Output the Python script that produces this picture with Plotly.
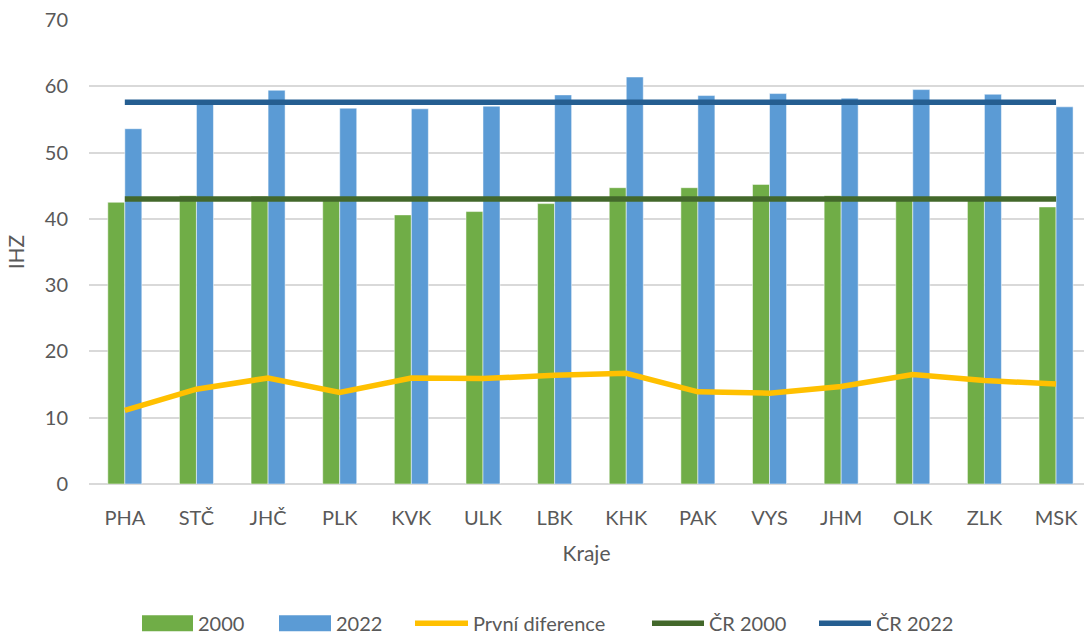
import plotly.graph_objects as go

kraje = ["PHA", "STČ", "JHČ", "PLK", "KVK", "ULK", "LBK", "KHK",
         "PAK", "VYS", "JHM", "OLK", "ZLK", "MSK"]
ihz_2000 = [42.5, 43.5, 43.4, 42.9, 40.6, 41.1, 42.3, 44.7, 44.7, 45.2, 43.5, 43.0, 43.2, 41.8]
ihz_2022 = [53.6, 57.8, 59.4, 56.7, 56.6, 57.0, 58.7, 61.4, 58.6, 58.9, 58.2, 59.5, 58.8, 56.9]
prvni_diference = [11.1, 14.3, 16.0, 13.8, 16.0, 15.9, 16.4, 16.7, 13.9, 13.7, 14.7, 16.5, 15.6, 15.1]
cr_2000 = [43.0] * len(kraje)
cr_2022 = [57.6] * len(kraje)

GREEN = "#70AD47"
BLUE = "#5B9BD5"
YELLOW = "#FFC000"
DARK_GREEN = "#43682B"
DARK_BLUE = "#255E91"
TEXT = "#595959"
GRID = "#D9D9D9"
FONT = "Lato, 'Open Sans', sans-serif"

# plot area geometry in pixels
W, H = 1084, 634
L, T, B = 89, 20, 149.5
PW, PH = W - L, H - T - B

fig = go.Figure()

fig.add_trace(go.Bar(x=kraje, y=ihz_2000, name="2000", marker_color=GREEN,
                     marker_line=dict(color="rgba(255,255,255,0.5)", width=1)))
fig.add_trace(go.Bar(x=kraje, y=ihz_2022, name="2022", marker_color=BLUE,
                     marker_line=dict(color="rgba(255,255,255,0.5)", width=1)))

LW = 5.5
fig.add_trace(go.Scatter(x=kraje, y=prvni_diference, name="První diference", mode="lines",
                         line=dict(color=YELLOW, width=LW)))
fig.add_trace(go.Scatter(x=kraje, y=cr_2000, name="ČR 2000", mode="lines",
                         line=dict(color=DARK_GREEN, width=LW)))
fig.add_trace(go.Scatter(x=kraje, y=cr_2022, name="ČR 2022", mode="lines",
                         line=dict(color=DARK_BLUE, width=LW)))


def px_x(px):
    return (px - L) / PW


def px_y(py):
    return (H - B - py) / PH


# legend row below the axis title
legend_y = 624
legend_items = [
    ("2000", GREEN, "box", 142, 193),
    ("2022", BLUE, "box", 279, 331),
    ("První diference", YELLOW, "line", 415, 468),
    ("ČR 2000", DARK_GREEN, "line", 652, 704),
    ("ČR 2022", DARK_BLUE, "line", 819, 871),
]
shapes = []
annotations = []
for name, color, kind, x0, x1 in legend_items:
    if kind == "box":
        shapes.append(dict(type="rect", xref="paper", yref="paper",
                           x0=px_x(x0), x1=px_x(x1),
                           y0=px_y(legend_y + 8), y1=px_y(legend_y - 8),
                           fillcolor=color, line=dict(width=0)))
    else:
        shapes.append(dict(type="line", xref="paper", yref="paper",
                           x0=px_x(x0), x1=px_x(x1),
                           y0=px_y(legend_y), y1=px_y(legend_y),
                           line=dict(color=color, width=LW)))
    annotations.append(dict(text=name, xref="paper", yref="paper",
                            x=px_x(x1 + 3), y=px_y(legend_y),
                            xanchor="left", yanchor="middle", showarrow=False,
                            font=dict(family=FONT, size=20, color=TEXT)))

fig.update_layout(
    width=W, height=H,
    margin=dict(l=L, r=0, t=T, b=B, autoexpand=False),
    paper_bgcolor="white", plot_bgcolor="white",
    barmode="group", bargap=0.525, bargroupgap=0,
    font=dict(family=FONT, color=TEXT, size=20),
    showlegend=False,
    shapes=shapes, annotations=annotations,
)
fig.update_xaxes(range=[-0.5, 13.39], showgrid=False, showline=False, ticks="",
                 automargin=False, ticklabelstandoff=20,
                 tickfont=dict(size=20, color=TEXT),
                 title=dict(text="Kraje", font=dict(size=21, color=TEXT), standoff=18))
fig.update_yaxes(range=[0, 70], dtick=10, showgrid=True, gridcolor=GRID, gridwidth=1.5,
                 zeroline=True, zerolinecolor=GRID, zerolinewidth=1.5,
                 showline=False, ticks="", ticklabelstandoff=20, automargin=False,
                 tickfont=dict(size=20, color=TEXT),
                 title=dict(text="IHZ", font=dict(size=21, color=TEXT), standoff=14))

fig.write_html("out.html")
